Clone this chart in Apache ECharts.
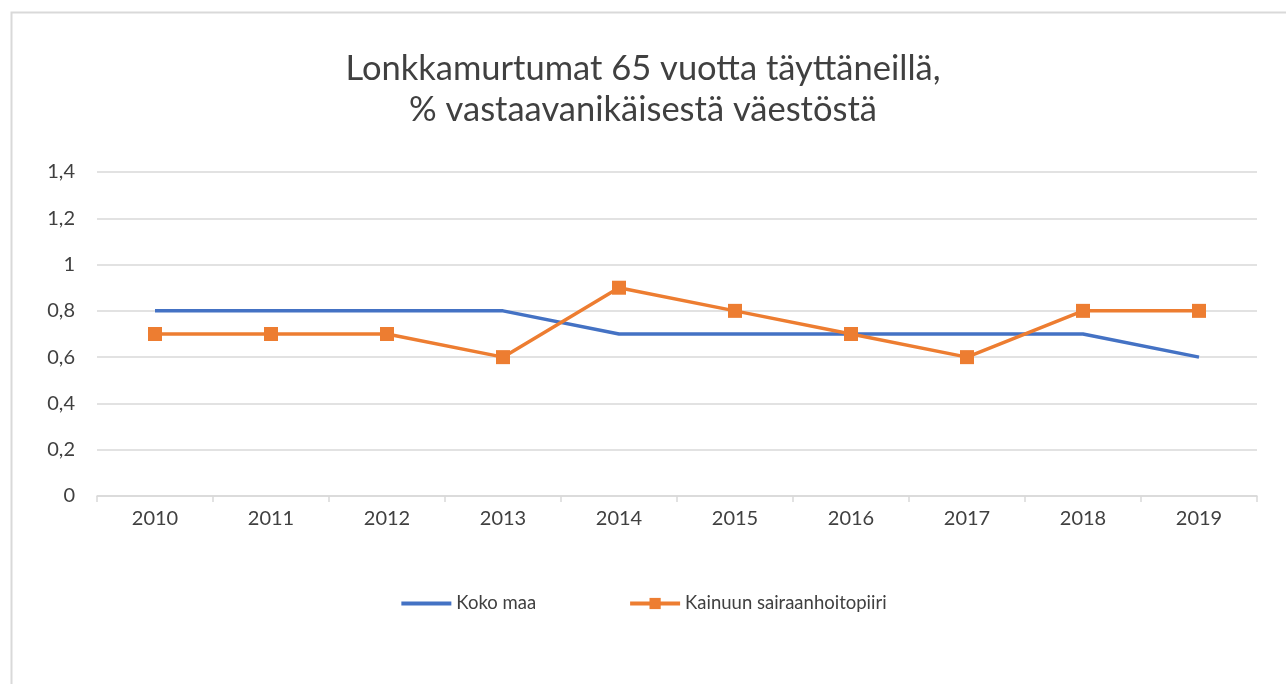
<!DOCTYPE html>
<html><head><meta charset="utf-8">
<script src="https://cdn.jsdelivr.net/npm/echarts@6/dist/echarts.min.js"></script>
<style>html,body{margin:0;padding:0;background:#fff}#c{width:1286px;height:684px}</style>
</head><body><div id="c"></div>
<script>
const titleText = 'Lonkkamurtumat 65 vuotta täyttäneillä,\n% vastaavanikäisestä väestöstä';
const years = ['2010','2011','2012','2013','2014','2015','2016','2017','2018','2019'];
const kokoMaa = [0.8,0.8,0.8,0.8,0.7,0.7,0.7,0.7,0.7,0.6];
const kainuu = [0.7,0.7,0.7,0.6,0.9,0.8,0.7,0.6,0.8,0.8];
const seriesNames = ['Koko maa','Kainuun sairaanhoitopiiri'];
const FONT = 'Lato, "Open Sans", sans-serif';
const chart = echarts.init(document.getElementById('c'));
chart.setOption({
  animation:false,
  graphic:[{type:'rect',left:9,top:10,shape:{width:1300,height:700},style:{fill:'none',stroke:'#d9d9d9',lineWidth:2},silent:true}],
  title:{text:titleText,left:'center',top:43,textStyle:{fontFamily:FONT,fontSize:34.5,fontWeight:'normal',color:'#404040',lineHeight:41}},
  grid:{left:97,right:29,top:172,bottom:188},
  legend:{bottom:66,left:'center',itemGap:92,itemWidth:50,itemHeight:14,
    textStyle:{fontFamily:FONT,fontSize:18.5,color:'#404040'},
    data:[{name:seriesNames[0],itemStyle:{opacity:0},lineStyle:{width:4}},{name:seriesNames[1],lineStyle:{width:4}}]},
  xAxis:{type:'category',data:years,boundaryGap:true,
    axisLine:{lineStyle:{color:'#d9d9d9',width:1.5}},
    axisTick:{show:true,length:6,lineStyle:{color:'#d9d9d9',width:1.5}},
    axisLabel:{fontFamily:FONT,fontSize:20,color:'#404040',margin:13}},
  yAxis:{type:'value',min:0,max:1.4,interval:0.2,
    axisLine:{show:false},axisTick:{show:false},
    splitLine:{lineStyle:{color:'#d9d9d9',width:1.5}},
    axisLabel:{fontFamily:FONT,fontSize:20,color:'#404040',margin:22,formatter:v=>String(Math.round(v*10)/10).replace('.',',')}},
  series:[
    {name:seriesNames[0],type:'line',data:kokoMaa,symbol:'none',lineStyle:{color:'#4472C4',width:3.5},itemStyle:{color:'#4472C4'}},
    {name:seriesNames[1],type:'line',data:kainuu,symbol:'rect',symbolSize:14,lineStyle:{color:'#ED7D31',width:3.5},itemStyle:{color:'#ED7D31'}}
  ]
});
</script></body></html>
